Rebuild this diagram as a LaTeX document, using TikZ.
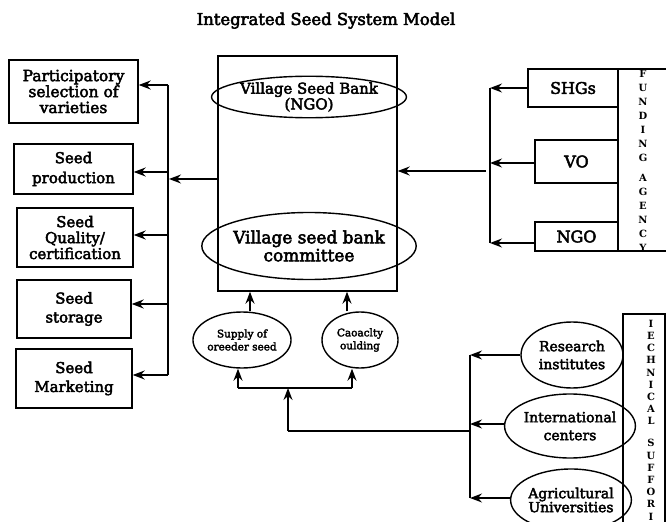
\documentclass[tikz,border=0pt]{standalone}
\usepackage{fontspec}
\setmainfont{DejaVu Serif}[FakeBold=3]
\newfontfamily\capsfont{DejaVu Serif Bold}
\usetikzlibrary{arrows.meta,shapes.geometric}
\begin{document}
\begin{tikzpicture}[x=1bp,y=-1bp,
  box/.style={draw,line width=1.4bp,inner sep=0pt,align=center},
  ell/.style={draw,ellipse,line width=1.4bp,inner sep=0pt,align=center},
  arr/.style={-{Stealth[length=12bp,width=9bp,inset=4bp]},line width=1.5bp},
  wire/.style={line width=1.5bp},
  vlet/.style={inner sep=0pt,align=center}
]
\path[use as bounding box] (0,0) rectangle (666,522);

% title
\node[anchor=base,font=\fontsize{16.5}{18}\selectfont] (title) at (326,25) {Integrated Seed System Model};

% activities on the left
\node[box,minimum width=129bp,minimum height=63bp,font=\fontsize{15.5}{16}\selectfont] (part) at (73.5,91.5) {Participatory\\selection of\\varieties};
\node[box,minimum width=119bp,minimum height=50bp,font=\fontsize{15}{20}\selectfont] (prod) at (73.5,169) {Seed\\production};
\node[box,minimum width=116bp,minimum height=59bp,font=\fontsize{15}{16}\selectfont] (qual) at (75,237.5) {Seed\\Quality/\\certification};
\node[box,minimum width=114bp,minimum height=58bp,font=\fontsize{15}{19}\selectfont] (stor) at (74,309) {Seed\\storage};
\node[box,minimum width=116bp,minimum height=59bp,font=\fontsize{15}{19}\selectfont] (mark) at (74,378.5) {Seed\\Marketing};

% central village seed bank
\node[box,minimum width=179bp,minimum height=235bp] (vsb) at (307.5,173.5) {};
\node[ell,minimum width=164bp,minimum height=39bp,font=\fontsize{15}{14}\selectfont] (bank) at (309,97) {Village Seed Bank\\(NGO)};
\node[ell,minimum width=173bp,minimum height=67bp,font=\fontsize{17}{18}\selectfont] (comm) at (309,246) {Village seed bank\\committee};

% inputs below the bank
\node[ell,minimum width=90bp,minimum height=56bp,font=\fontsize{10.5}{13}\selectfont] (sup) at (242,340) {Supply of\\oreeder seed};
\node[ell,minimum width=76bp,minimum height=56bp,font=\fontsize{10.5}{13}\selectfont] (cap) at (360,340) {Caoaclty\\oulding};

% funding agency
\node[box,minimum width=90bp,minimum height=38bp,font=\fontsize{16}{16}\selectfont] (shg) at (573,88) {SHGs};
\node[box,minimum width=83bp,minimum height=43bp,font=\fontsize{16}{16}\selectfont] (vo) at (576.5,161.5) {VO};
\node[box,minimum width=83bp,minimum height=29bp,font=\fontsize{16}{16}\selectfont] (ngo) at (576.5,236.5) {NGO};
\node[box,minimum width=49bp,minimum height=182bp] (fund) at (642.5,160) {};
\node[vlet,font=\capsfont\fontsize{10}{14}\selectfont] (fundtxt) at (643,161) {F\\U\\N\\D\\I\\N\\G\\[6bp]A\\G\\E\\N\\C\\Y};

% technical support
\node[ell,minimum width=102bp,minimum height=66bp,font=\fontsize{14}{18}\selectfont] (res) at (572,355) {Research\\institutes};
\node[ell,minimum width=110bp,minimum height=64bp,font=\fontsize{14}{18}\selectfont] (intl) at (570,426) {International\\centers};
\node[ell,minimum width=100bp,minimum height=62bp,font=\fontsize{14}{14}\selectfont] (agri) at (571,500) {Agricultural\\Universities};
\node[box,minimum width=42bp,minimum height=226bp] (tech) at (644,427) {};
\node[vlet,font=\capsfont\fontsize{10}{12.25}\selectfont] (techtxt) at (651,420) {I\\E\\C\\H\\N\\I\\C\\A\\L\\[9.75bp]S\\U\\F\\F\\O\\R\\I};

% left distribution bus
\coordinate (lb1) at (168,85);
\coordinate (lb2) at (168,172);
\coordinate (lb3) at (168,235);
\coordinate (lb4) at (168,304);
\coordinate (lb5) at (168,375);
\coordinate (lbin) at (169,179);
\draw[wire] (lb1) -- (lb5);
\draw[arr] (lb1) -- (lb1 -| part.east);
\draw[arr] (lb2) -- (lb2 -| prod.east);
\draw[arr] (lb3) -- (lb3 -| qual.east);
\draw[arr] (lb4) -- (lb4 -| stor.east);
\draw[arr] (lb5) -- (lb5 -| mark.east);
\draw[arr] (vsb.west |- lbin) -- (lbin);

% funding bus
\coordinate (fb1) at (490,88);
\coordinate (fb2) at (490,163);
\coordinate (fb3) at (490,243);
\coordinate (fbo) at (486,171);
\draw[wire] (fb1) -- (fb3);
\draw[arr] (shg.west |- fb1) -- (fb1);
\draw[arr] (vo.west |- fb2) -- (fb2);
\draw[arr] (ngo.west |- fb3) -- (fb3);
\draw[arr] (fbo) -- (fbo -| vsb.east);

% inputs into the committee
\coordinate (su) at (250,0);
\coordinate (cu) at (347,0);
\draw[arr] (su |- sup.north) -- (su |- vsb.south);
\draw[arr] (cu |- cap.north) -- (cu |- vsb.south);

% technical support feed
\coordinate (ja) at (238,388);
\coordinate (jb) at (352,388);
\coordinate (jn) at (288,388);
\coordinate (tb) at (288,431);
\coordinate (rbm) at (470,431);
\coordinate (rb1) at (470,355);
\coordinate (rb2) at (470,424);
\coordinate (rb3) at (470,498);
\draw[wire] (ja) -- (jb);
\draw[arr] (ja) -- (ja |- sup.south);
\draw[arr] (jb) -- (jb |- cap.south);
\draw[arr] (tb) -- (jn);
\draw[wire] (tb) -- (rbm);
\draw[wire] (rb1) -- (rb3);
\draw[arr] (res.west |- rb1) -- (rb1);
\draw[arr] (intl.west |- rb2) -- (rb2);
\draw[arr] (agri.west |- rb3) -- (rb3);
\end{tikzpicture}
\end{document}
